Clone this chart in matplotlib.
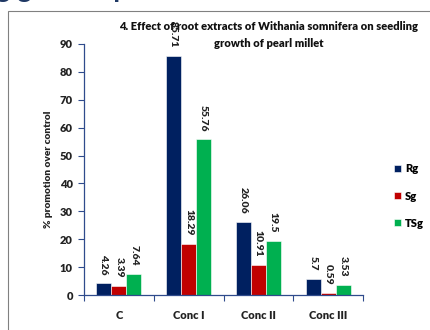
import numpy as np
import matplotlib.pyplot as plt
from matplotlib.patches import Rectangle

plt.rcParams['font.family'] = ['Lato', 'DejaVu Sans']
plt.rcParams['font.weight'] = 'bold'

categories = ["C", "Conc I", "Conc II", "Conc III"]
series_names = ["Rg", "Sg", "TSg"]
rg = [4.26, 85.71, 26.06, 5.7]
sg = [3.39, 18.29, 10.91, 0.59]
tsg = [7.64, 55.76, 19.5, 3.53]
labels_rg = ["4.26", "85.71", "26.06", "5.7"]
labels_sg = ["3.39", "18.29", "10.91", "0.59"]
labels_tsg = ["7.64", "55.76", "19.5", "3.53"]
colors = ["#002060", "#C00000", "#00B050"]

fig = plt.figure(figsize=(4.3, 3.3), dpi=100)
ax = fig.add_axes([84 / 430, 1 - 295 / 330, (363 - 84) / 430, (295 - 44) / 330])

# outer frame of the slide box (cropped at right and bottom)
fig.patches.append(Rectangle((8 / 430, -0.2), 1.2, 1 - 11 / 330 + 0.2,
                             transform=fig.transFigure, fill=False,
                             edgecolor="#808080", linewidth=0.8))

# cropped slide heading at top edge, only descenders visible
fig.text(-0.01, 1 + 3 / 330, "g growth promotion", fontsize=20, color="#1F3864",
         fontweight="bold", ha="left", va="baseline")

x = np.arange(len(categories))
w = 0.216
for i, (vals, labs) in enumerate(zip([rg, sg, tsg], [labels_rg, labels_sg, labels_tsg])):
    pos = x + (i - 1) * w
    ax.bar(pos, vals, width=w, color=colors[i], edgecolor="white", linewidth=0.4,
           label=series_names[i])
    for px, v, t in zip(pos, vals, labs):
        ax.annotate(t, (px, v), xytext=(0, 6), textcoords="offset points",
                    rotation=270, ha="center", va="bottom", fontsize=7.5,
                    fontweight="heavy", color="#222222")

ax.set_xlim(-0.5, 3.5)
ax.set_ylim(0, 90)
ax.set_yticks(range(0, 91, 10))
ax.set_xticks(x)
ax.set_xticklabels(categories)
ax.set_xticks(np.arange(-0.5, 4, 1), minor=True)
ax.tick_params(axis="x", which="major", length=0, pad=11, labelsize=8)
ax.tick_params(axis="x", which="minor", length=4, color="#2F4B8C", width=0.8)
ax.tick_params(axis="y", length=4, color="#2F4B8C", width=0.8, labelsize=8, pad=4)
for lab in ax.get_xticklabels() + ax.get_yticklabels():
    lab.set_fontweight("heavy")
    lab.set_color("#222222")
for s in ["top", "right"]:
    ax.spines[s].set_visible(False)
for s in ["left", "bottom"]:
    ax.spines[s].set_color("#2F4B8C")
    ax.spines[s].set_linewidth(0.9)

ax.set_ylabel("% promotion over control", fontsize=7.3, fontweight="heavy", labelpad=5,
              color="#222222")

fig.text(269 / 430, 1 - 35 / 330, "4. Effect of root extracts of Withania somnifera on seedling\ngrowth of pearl millet",
         ha="center", va="center", fontsize=8, fontweight="heavy", linespacing=1.65,
         color="#111111")

leg = ax.legend(loc="center left", bbox_to_anchor=(384 / 430, 1 - 196 / 330),
                bbox_transform=fig.transFigure, frameon=False, fontsize=8,
                handlelength=0.6, handleheight=0.6, handletextpad=0.4, labelspacing=1.45)
for t in leg.get_texts():
    t.set_fontweight("heavy")

fig.savefig("out.png", dpi=100)
